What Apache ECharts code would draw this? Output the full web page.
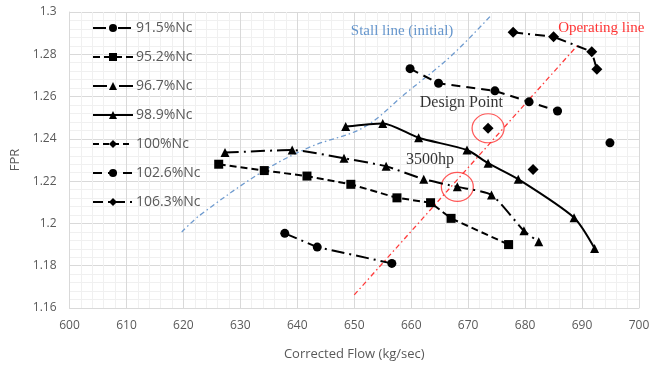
<!DOCTYPE html>
<html>
<head>
<meta charset="utf-8">
<script src="https://cdn.jsdelivr.net/npm/echarts@6/dist/echarts.min.js"></script>
<style>
  html, body { margin: 0; padding: 0; background: #fff; }
  #chart { width: 662px; height: 366px; }
</style>
</head>
<body>
<div id="chart"></div>
<script>
// Speed lines: corrected flow (kg/sec) and fan pressure ratio
const flow915 = [637.8, 643.5, 656.6];
const fpr915  = [1.1953, 1.1888, 1.1811];

const flow952 = [626.2, 634.2, 641.7, 649.4, 657.5, 663.4, 667.0, 677.1];
const fpr952  = [1.2280, 1.2250, 1.2224, 1.2185, 1.2121, 1.2098, 1.2024, 1.1900];

const flow967 = [627.3, 639.1, 648.2, 655.6, 662.2, 668.1, 674.1, 679.8, 682.4];
const fpr967  = [1.2335, 1.2347, 1.2308, 1.2270, 1.2209, 1.2173, 1.2135, 1.1965, 1.1913];

const flow989 = [648.5, 655.0, 661.3, 669.8, 673.5, 678.8, 688.6, 692.2];
const fpr989  = [1.2458, 1.2473, 1.2405, 1.2347, 1.2285, 1.2209, 1.2027, 1.1882];

const flow1000 = [673.5, null, 681.4];
const fpr1000  = [1.2450, null, 1.2255];

const flow1026 = [659.8, 664.8, 674.7, 680.7, 685.7, null, 694.9];
const fpr1026  = [1.2732, 1.2663, 1.2627, 1.2575, 1.2532, null, 1.2381];

const flow1063 = [677.9, 685.0, 691.7, 692.6];
const fpr1063  = [1.2904, 1.2883, 1.2812, 1.2729];

// Reference lines
const flowStall = [619.7, 622.9, 634.0, 642.3, 651.7, 659.1, 667.0, 674.1];
const fprStall  = [1.1959, 1.2039, 1.2247, 1.2362, 1.2455, 1.2617, 1.2792, 1.2986];

const flowOper = [650.0, 689.4];
const fprOper  = [1.1662, 1.2848];

// Highlighted operating points
const designPoint = [673.5, 1.2450];
const point3500hp = [668.1, 1.2173];

// Axis ticks
const xTicks = { min: 600, max: 700, step: 10 };
const yTicks = { min: 1.16, max: 1.3, step: 0.02 };

const speedNames = ['91.5%Nc', '95.2%Nc', '96.7%Nc', '98.9%Nc', '100%Nc', '102.6%Nc', '106.3%Nc'];

function pairs(xs, ys) {
  return xs.map((x, i) => (x === null ? [null, null] : [x, ys[i]]));
}

const black = '#000000';

function speedSeries(name, xs, ys, symbol, size, dash, smooth) {
  return {
    name: name,
    type: 'line',
    data: pairs(xs, ys),
    symbol: symbol,
    symbolSize: size,
    smooth: smooth || false,
    connectNulls: false,
    itemStyle: { color: black },
    lineStyle: { color: black, width: 2, type: dash },
    emphasis: { disabled: true },
    z: 5
  };
}

function note(text, x, y, color, size) {
  return {
    value: [x, y],
    label: {
      show: true, position: 'right', distance: 0,
      formatter: text, color: color, fontSize: size,
      fontFamily: '"Liberation Serif", "DejaVu Serif", serif'
    }
  };
}

const chart = echarts.init(document.getElementById('chart'), null, { renderer: 'canvas' });

chart.setOption({
  backgroundColor: '#ffffff',
  animation: false,
  grid: { left: 69.5, right: 23, top: 12, bottom: 50.7 },
  legend: {
    data: speedNames,
    orient: 'vertical',
    left: 87,
    top: 16,
    itemWidth: 40,
    itemHeight: 10,
    itemGap: 15,
    textStyle: { color: '#595959', fontSize: 14, fontFamily: '"Open Sans", sans-serif', padding: [0, 0, 0, -2] }
  },
  xAxis: {
    type: 'value',
    min: xTicks.min, max: xTicks.max, interval: xTicks.step,
    name: 'Corrected Flow (kg/sec)',
    nameLocation: 'middle',
    nameGap: 40,
    nameTextStyle: { color: '#595959', fontSize: 13, fontFamily: '"Open Sans", sans-serif' },
    axisLine: { show: true, lineStyle: { color: '#d9d9d9', width: 1 } },
    axisTick: { show: false },
    axisLabel: { color: '#595959', fontSize: 12, margin: 12, fontFamily: '"Open Sans", sans-serif' },
    splitLine: { show: true, lineStyle: { color: '#d9d9d9', width: 1 } },
    minorTick: { show: false, splitNumber: 5 },
    minorSplitLine: { show: true, lineStyle: { color: '#f0f0f0', width: 1 } }
  },
  yAxis: {
    type: 'value',
    min: yTicks.min, max: yTicks.max, interval: yTicks.step,
    name: 'FPR',
    nameLocation: 'middle',
    nameGap: 47,
    nameTextStyle: { color: '#595959', fontSize: 13, fontFamily: '"Open Sans", sans-serif' },
    axisLine: { show: true, lineStyle: { color: '#d9d9d9', width: 1 } },
    axisTick: { show: false },
    axisLabel: {
      color: '#595959', fontSize: 12, margin: 13, fontFamily: '"Open Sans", sans-serif',
      formatter: v => String(+v.toFixed(2))
    },
    splitLine: { show: true, lineStyle: { color: '#d9d9d9', width: 1 } },
    minorTick: { show: false, splitNumber: 5 },
    minorSplitLine: { show: true, lineStyle: { color: '#f0f0f0', width: 1 } }
  },
  series: [
    {
      name: 'Stall line (initial)',
      type: 'line',
      data: pairs(flowStall, fprStall),
      symbol: 'none',
      smooth: 0.35,
      lineStyle: { color: '#6f9bcf', width: 1.3, type: [5, 3, 1.5, 3] },
      emphasis: { disabled: true },
      z: 2
    },
    {
      name: 'Operating line',
      type: 'line',
      data: pairs(flowOper, fprOper),
      symbol: 'none',
      lineStyle: { color: '#ff3b3b', width: 1.3, type: [5, 3, 1.5, 3] },
      emphasis: { disabled: true },
      z: 2
    },
    speedSeries(speedNames[0], flow915, fpr915, 'circle', 9, [13, 5, 2, 5]),
    speedSeries(speedNames[1], flow952, fpr952, 'rect', 9, [7, 4]),
    speedSeries(speedNames[2], flow967, fpr967, 'triangle', 9, [14, 5, 2, 5], 0.2),
    speedSeries(speedNames[3], flow989, fpr989, 'triangle', 9, 'solid', 0.25),
    speedSeries(speedNames[4], flow1000, fpr1000, 'diamond', 11, [6, 4]),
    speedSeries(speedNames[5], flow1026, fpr1026, 'circle', 9, [9, 6]),
    speedSeries(speedNames[6], flow1063, fpr1063, 'diamond', 11, [10, 5, 2, 5]),
    {
      name: 'highlight',
      type: 'scatter',
      data: [designPoint, point3500hp],
      symbol: 'circle',
      symbolSize: [32, 29],
      itemStyle: { color: 'rgba(0,0,0,0)', borderColor: '#ff3030', borderWidth: 1.2 },
      emphasis: { disabled: true },
      z: 4
    },
    {
      name: 'notes',
      type: 'scatter',
      symbolSize: 0,
      data: [
        note('Stall line (initial)', 649.4, 1.2912, '#3f7cc0', 15),
        note('Operating line', 685.8, 1.2922, '#ff0000', 15),
        note('Design Point', 661.5, 1.2571, '#000000', 16),
        note('3500hp', 659.1, 1.2303, '#000000', 16)
      ],
      emphasis: { disabled: true },
      z: 6
    }
  ]
});
</script>
</body>
</html>
